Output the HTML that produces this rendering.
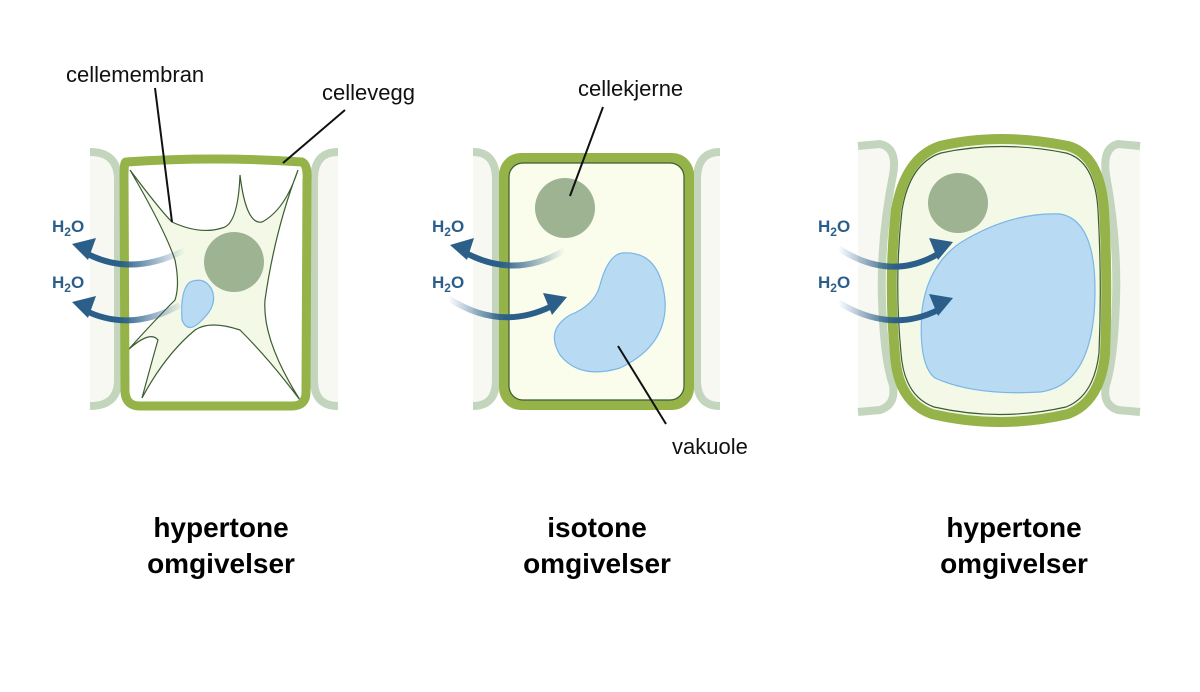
<!DOCTYPE html>
<html><head><meta charset="utf-8"><style>
body{margin:0;background:#fff;}
svg{display:block;}
text{font-family:"Liberation Sans",sans-serif;}
</style></head><body>
<svg width="1200" height="692" viewBox="0 0 1200 692" xmlns="http://www.w3.org/2000/svg">
<defs>
<linearGradient id="gL1" gradientUnits="userSpaceOnUse" x1="185" y1="0" x2="120" y2="0"><stop offset="0" stop-color="#2b5f8a" stop-opacity="0"/><stop offset="1" stop-color="#2b5f8a"/></linearGradient>
<linearGradient id="gL2" gradientUnits="userSpaceOnUse" x1="565" y1="0" x2="500" y2="0"><stop offset="0" stop-color="#2b5f8a" stop-opacity="0"/><stop offset="1" stop-color="#2b5f8a"/></linearGradient>
<linearGradient id="gR2" gradientUnits="userSpaceOnUse" x1="448" y1="0" x2="505" y2="0"><stop offset="0" stop-color="#2b5f8a" stop-opacity="0"/><stop offset="1" stop-color="#2b5f8a"/></linearGradient>
<linearGradient id="gR3" gradientUnits="userSpaceOnUse" x1="838" y1="0" x2="895" y2="0"><stop offset="0" stop-color="#2b5f8a" stop-opacity="0"/><stop offset="1" stop-color="#2b5f8a"/></linearGradient>
</defs>

<!-- Cell 1 neighbors -->
<path d="M90 152 Q118 152 118 180 L118 380 Q118 406 90 406" fill="#f8f8f3" stroke="#c3d6bd" stroke-width="8"/>
<path d="M338 152 Q314 152 314 180 L314 380 Q314 406 338 406" fill="#f8f8f3" stroke="#c3d6bd" stroke-width="8"/>
<rect x="123" y="158" width="184" height="248" rx="14" fill="#fff"/>
<path d="M130 170 Q160 210 172 222 Q200 235 222 228 Q238 225 240 175 Q246 225 262 222 Q285 210 298 170 Q275 230 265 300 Q262 340 300 400 Q270 360 240 330 Q210 320 195 330 Q165 355 142 398 Q155 350 158 340 Q150 330 128 350 Q155 320 175 300 Q180 285 175 260 Q165 230 130 170 Z" fill="#f3f9e6" stroke="#3c5c34" stroke-width="1.2"/>
<circle cx="234" cy="262" r="30" fill="#9db392"/>
<path d="M190 282 Q205 276 212 290 Q218 305 202 320 Q188 335 182 320 Q180 290 190 282 Z" fill="#b8dbf3" stroke="#7ab6e6" stroke-width="1.2"/>
<path d="M126 162 Q215 156 302 162 Q308 165 307 180 L306 392 Q306 406 292 406 L140 406 Q126 406 125 392 L124 176 Q124 162 126 162 Z" fill="none" stroke="#95b349" stroke-width="9"/>
<path d="M185 250 Q130 278 84 252" fill="none" stroke="url(#gL1)" stroke-width="6"/>
<path d="M72 244 L96 238 L88 260 Z" fill="#2b5f8a"/>
<path d="M180 305 Q130 333 84 310" fill="none" stroke="url(#gL1)" stroke-width="6"/>
<path d="M72 302 L96 296 L88 318 Z" fill="#2b5f8a"/>
<text x="52" y="232" font-size="17" font-weight="bold" fill="#2b5f8a">H<tspan font-size="12" dy="4">2</tspan><tspan dy="-4">O</tspan></text>
<text x="52" y="288" font-size="17" font-weight="bold" fill="#2b5f8a">H<tspan font-size="12" dy="4">2</tspan><tspan dy="-4">O</tspan></text>
<line x1="155" y1="88" x2="172" y2="222" stroke="#111" stroke-width="2"/>
<line x1="345" y1="110" x2="283" y2="163" stroke="#111" stroke-width="2"/>
<text x="66" y="82" font-size="22" fill="#111">cellemembran</text>
<text x="322" y="100" font-size="22" fill="#111">cellevegg</text>

<!-- Cell 2 -->
<path d="M473 152 Q496 152 496 180 L496 380 Q496 406 473 406" fill="#f8f8f3" stroke="#c3d6bd" stroke-width="8"/>
<path d="M720 152 Q697 152 697 180 L697 380 Q697 406 720 406" fill="#f8f8f3" stroke="#c3d6bd" stroke-width="8"/>
<rect x="499" y="153" width="195" height="257" rx="22" fill="#95b349"/>
<rect x="509" y="163" width="175" height="237" rx="14" fill="#fafdec" stroke="#3c5c34" stroke-width="1.2"/>
<circle cx="565" cy="208" r="30" fill="#9db392"/>
<path d="M622 253 Q660 250 665 300 Q668 345 620 368 Q580 380 560 355 Q545 330 570 315 Q595 305 600 285 Q608 255 622 253 Z" fill="#b8dbf3" stroke="#7ab6e6" stroke-width="1.2"/>
<path d="M565 250 Q515 280 464 252" fill="none" stroke="url(#gL2)" stroke-width="6"/>
<path d="M450 245 L474 238 L467 260 Z" fill="#2b5f8a"/>
<path d="M448 298 Q500 332 552 306" fill="none" stroke="url(#gR2)" stroke-width="6"/>
<path d="M567 297 L543 293 L552 315 Z" fill="#2b5f8a"/>
<text x="432" y="232" font-size="17" font-weight="bold" fill="#2b5f8a">H<tspan font-size="12" dy="4">2</tspan><tspan dy="-4">O</tspan></text>
<text x="432" y="288" font-size="17" font-weight="bold" fill="#2b5f8a">H<tspan font-size="12" dy="4">2</tspan><tspan dy="-4">O</tspan></text>
<line x1="603" y1="107" x2="570" y2="196" stroke="#111" stroke-width="2"/>
<line x1="618" y1="346" x2="666" y2="424" stroke="#111" stroke-width="2"/>
<text x="578" y="96" font-size="22" fill="#111">cellekjerne</text>
<text x="672" y="454" font-size="22" fill="#111">vakuole</text>

<!-- Cell 3 -->
<path d="M858 146 L880 144 Q898 148 893 175 Q880 240 882 300 Q884 360 893 385 Q896 405 880 410 L858 412" fill="#f8f8f3" stroke="#c3d6bd" stroke-width="8"/>
<path d="M1140 146 L1118 144 Q1102 148 1106 175 Q1118 240 1116 300 Q1114 360 1106 385 Q1102 405 1118 410 L1140 412" fill="#f8f8f3" stroke="#c3d6bd" stroke-width="8"/>
<path d="M940 146 Q1000 132 1068 146 Q1100 155 1104 210 Q1108 280 1105 355 Q1100 402 1068 414 Q1000 430 932 414 Q898 402 895 355 Q888 280 896 210 Q905 158 940 146 Z" fill="#f3f9e6" stroke="#95b349" stroke-width="10"/>
<path d="M941 153 Q1000 140 1066 153 Q1095 161 1098 210 Q1102 280 1099 353 Q1094 396 1066 407 Q1000 422 934 407 Q904 396 901 353 Q894 280 902 210 Q910 163 941 153 Z" fill="none" stroke="#3c5c34" stroke-width="1.2"/>
<circle cx="958" cy="203" r="30" fill="#9db392"/>
<path d="M1060 214 Q1095 220 1095 290 Q1095 385 1040 392 Q975 396 935 378 Q918 365 922 310 Q928 265 960 243 Q1010 212 1060 214 Z" fill="#b8dbf3" stroke="#7ab6e6" stroke-width="1.2"/>
<path d="M838 248 Q890 282 938 254" fill="none" stroke="url(#gR3)" stroke-width="6"/>
<path d="M953 242 L929 238 L938 260 Z" fill="#2b5f8a"/>
<path d="M838 302 Q890 334 938 310" fill="none" stroke="url(#gR3)" stroke-width="6"/>
<path d="M953 298 L929 294 L938 316 Z" fill="#2b5f8a"/>
<text x="818" y="232" font-size="17" font-weight="bold" fill="#2b5f8a">H<tspan font-size="12" dy="4">2</tspan><tspan dy="-4">O</tspan></text>
<text x="818" y="288" font-size="17" font-weight="bold" fill="#2b5f8a">H<tspan font-size="12" dy="4">2</tspan><tspan dy="-4">O</tspan></text>

<g font-size="28" font-weight="bold" fill="#000" text-anchor="middle">
<text x="221" y="537">hypertone</text><text x="221" y="573">omgivelser</text>
<text x="597" y="537">isotone</text><text x="597" y="573">omgivelser</text>
<text x="1014" y="537">hypertone</text><text x="1014" y="573">omgivelser</text>
</g>
</svg>
</body></html>
